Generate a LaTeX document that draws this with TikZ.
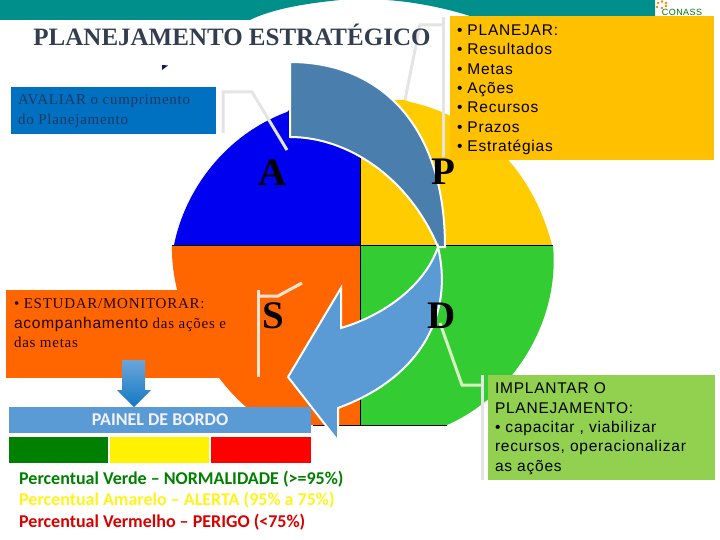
\documentclass[tikz,border=0pt]{standalone}
\usepackage{fontspec}
\setmainfont{Liberation Serif}
\newfontfamily\arialfont[LetterSpace=5]{Liberation Sans}
\newfontfamily\serifaberta[LetterSpace=5]{Liberation Serif}
\newfontfamily\calibrifont{Carlito}
\usetikzlibrary{arrows.meta,positioning,calc}
\definecolor{Faixa}{HTML}{008F8A}
\definecolor{Titulo}{HTML}{323E4F}
\definecolor{Marinho}{HTML}{10106E}
\definecolor{Azul}{HTML}{0000F0}
\definecolor{AzulBox}{HTML}{0070C0}
\definecolor{AzulTexto}{HTML}{1F3864}
\definecolor{Amarelo}{HTML}{FFCC00}
\definecolor{AmareloBox}{HTML}{FFC000}
\definecolor{Laranja}{HTML}{FF6600}
\definecolor{Verde}{HTML}{33CC33}
\definecolor{VerdeBox}{HTML}{92D050}
\definecolor{SetaEscura}{HTML}{4A7EAD}
\definecolor{SetaClara}{HTML}{5B9BD5}
\definecolor{Chamada}{HTML}{E4E4E4}
\begin{document}
\begin{tikzpicture}[x=1pt,y=-1pt,
    boxstyle/.style={anchor=north west,inner sep=0pt,outer sep=0pt},
    callout/.style={draw=Chamada,line width=3pt,line join=miter},
    arrowband/.style={draw=white,line width=2pt,line join=miter},
    letra/.style={font=\fontsize{39}{39}\selectfont\bfseries,inner sep=0pt},
    legenda/.style={anchor=west,inner sep=0pt,font=\calibrifont\fontsize{18}{20}\selectfont\bfseries}]
  \useasboundingbox (0,0) rectangle (720,540);
  \fill[Faixa] (0,0) -- (340,0) .. controls (300,4) and (270,10) .. (250,20) -- (0,20) -- cycle;
  \fill[Faixa] (387,0) .. controls (415,2) and (445,8) .. (470,16) -- (655,16) -- (655,0) -- cycle;
  \node[inner sep=0pt,text=green!45!black,font=\arialfont\fontsize{9}{9}\selectfont] (conass) at (682,12) {CONASS};
  \foreach \px/\py in {658/3,662/1.5,666/3,657/7,662/8,666/6}
    \fill[orange] (\px,\py) circle (1.3);
  \fill[Marinho] (162,65) -- (168,65.5) -- (162,70) -- cycle;
  % quadrantes
  \fill[Azul] (360,245) -- (174,245) .. controls (185,190) and (225,135) .. (287,112) -- (300,100) -- (360,100) -- cycle;
  \fill[Amarelo] (360,245) -- (360,100) -- (405,100) -- (410,102) .. controls (470,115) and (530,160) .. (552,245) -- cycle;
  \fill[Laranja] (360,245) -- (172,245) .. controls (170,310) and (215,395) .. (272,425) -- (360,425) -- cycle;
  \fill[Verde] (360,245) -- (553,245) .. controls (560,320) and (515,395) .. (447,425) -- (360,425) -- cycle;
  \draw[black,line width=1pt] (172,245) -- (553,245);
  \draw[black,line width=1pt] (360,150) -- (360,425);
  \draw[black,line width=1pt] (313,425) -- (447,425);
  \node[boxstyle,fill=Laranja,minimum width=244pt,minimum height=88pt] (estudar) at (6,290) {};
  % setas do ciclo
  \path[arrowband,fill=SetaEscura] (290,62) .. controls (380,62) and (445,125) .. (445,247) -- (438,247) .. controls (410,180) and (350,137) .. (290,137) -- cycle;
  \path[arrowband,fill=SetaClara] (438,247) .. controls (455,320) and (415,380) .. (338,408) -- (338,441) -- (288,377) -- (341,288) -- (341,328) .. controls (385,315) and (425,285) .. (438,247) -- cycle;
  % chamadas
  \coordinate (avaliarfim) at (287,150);
  \coordinate (planejarfim) at (405,100);
  \coordinate (estudarfim) at (302,283);
  \coordinate (implantarfim) at (440,323);
  \draw[callout] (223,133) -- (223,92) -- (252,92) -- (avaliarfim);
  \draw[callout] (443,157) -- (443,17);
  \draw[callout] (443,25) -- (420,25) -- (planejarfim);
  \draw[callout,draw=Chamada!60!Laranja!35!white] (258,377) -- (258,290);
  \draw[callout,draw=Chamada!60!Laranja!35!white] (258,296) -- (278,296) -- (estudarfim);
  \draw[callout,draw=VerdeBox!35!white] (482,385) -- (462,385) -- (implantarfim);
  \draw[callout] (482,375) -- (482,480);
  % caixas
  \node[boxstyle,fill=AzulBox,minimum width=205pt,minimum height=47pt] (avaliar) at (11,87) {};
  \node[boxstyle,fill=AmareloBox,minimum width=264pt,minimum height=144pt] (planejar) at (450,16) {};
  \node[boxstyle,fill=VerdeBox,minimum width=227pt,minimum height=105pt] (implantar) at (488,375) {};
  \node[inner sep=0pt,text=Titulo,font=\fontsize{25}{25}\selectfont\bfseries] (titulo) at (232,35) {PLANEJAMENTO ESTRATÉGICO};
  \node[boxstyle,align=left,text=AzulTexto,font=\serifaberta\fontsize{15}{20}\selectfont] (avaliartxt) at (18,95) {AVALIAR o cumprimento\\do Planejamento};
  \node[boxstyle,align=left,text=black,font=\arialfont\fontsize{15.5}{19.3}\selectfont] (planejartxt) at (457,25) {• PLANEJAR:\\• Resultados\\• Metas\\• Ações\\• Recursos\\• Prazos\\• Estratégias};
  \node[boxstyle,align=left,text=black,font=\arialfont\fontsize{15.5}{19.3}\selectfont] (implantartxt) at (495,383) {IMPLANTAR O\\PLANEJAMENTO:\\• capacitar , viabilizar\\recursos, operacionalizar\\as ações};
  \node[boxstyle,align=left,text=black!85!red,font=\serifaberta\fontsize{15}{19.5}\selectfont] (estudartxt) at (14,299) {• ESTUDAR/MONITORAR:\\{\arialfont\fontsize{15.5}{19.5}\selectfont acompanhamento} das ações e\\das metas};
  \node[letra] (letraA) at (273,173) {A};
  \node[letra] (letraP) at (443,172) {P};
  \node[letra] (letraS) at (273,316) {S};
  \node[letra] (letraD) at (442,316) {D};
  % painel
  \node[boxstyle,fill=SetaClara,minimum width=302pt,minimum height=26pt] (painel) at (9,407) {};
  \node[inner sep=0pt,text=white!95!blue,font=\calibrifont\fontsize{18}{18}\selectfont\bfseries] (paineltxt) at (painel.center) {PAINEL DE BORDO};
  \node[boxstyle,fill=green!50!black,minimum width=99pt,minimum height=26pt] (corverde) at (9,437) {};
  \node[boxstyle,fill=yellow,minimum width=99pt,minimum height=26pt] (coramarela) at (110,437) {};
  \node[boxstyle,fill=red,minimum width=100pt,minimum height=26pt] (corvermelha) at (211,437) {};
  \shade[top color=SetaClara!90!white,bottom color=AzulBox!80!SetaClara] (122,360) -- (145,360) -- (145,390) -- (151,390) -- (134,407) -- (117,390) -- (122,390) -- cycle;
  \node[legenda,text=green!50!black] (legverde) at (19,479) {Percentual Verde – NORMALIDADE (>=95\%)};
  \node[legenda,text=yellow!90!white] (legamarela) at (19,500) {Percentual Amarelo – ALERTA (95\% a 75\%)};
  \node[legenda,text=red!85!black] (legvermelha) at (19,522) {Percentual Vermelho – PERIGO (<75\%)};
\end{tikzpicture}
\end{document}
